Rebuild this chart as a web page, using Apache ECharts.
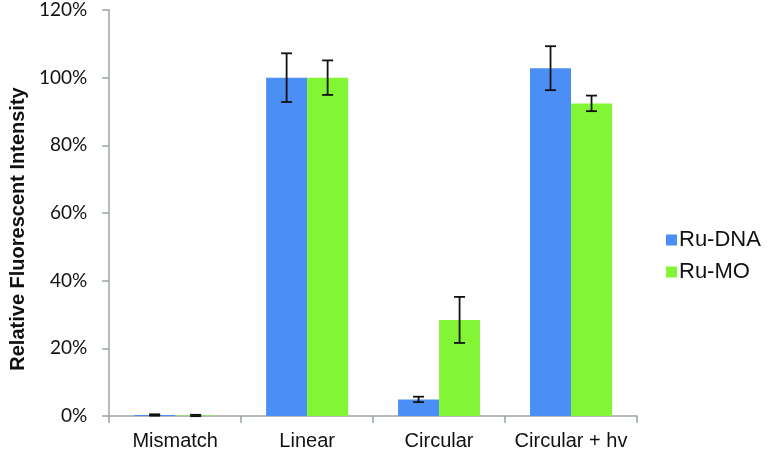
<!DOCTYPE html>
<html><head><meta charset="utf-8">
<script src="https://cdn.jsdelivr.net/npm/echarts@6/dist/echarts.min.js"></script>
<style>html,body{margin:0;padding:0;background:#fff}#c{width:784px;height:451px}</style>
</head><body><div id="c"></div>
<script>
var categories = ['Mismatch', 'Linear', 'Circular', 'Circular + hv'];
var seriesNames = ['Ru-DNA', 'Ru-MO'];
var ruDNA = [0.3, 100, 4.9, 102.8];
var ruDNAErr = [0.2, 7.2, 0.8, 6.5];
var ruMO = [0.15, 100, 28.4, 92.4];
var ruMOErr = [0.2, 5.1, 6.8, 2.3];
var yTicks = [0, 20, 40, 60, 80, 100, 120];

var BAR_W = 41;
var axisColor = '#9ba4a7';

function errSeries(vals, errs, offset) {
  return {
    type: 'custom',
    z: 10,
    silent: true,
    renderItem: function (params, api) {
      var i = api.value(0), v = api.value(1), e = api.value(2);
      var hi = api.coord([i, v + e]);
      var lo = api.coord([i, v - e]);
      var x = hi[0] + offset;
      var cap = 5.5;
      var st = { stroke: '#111', lineWidth: 1.8 };
      return {
        type: 'group',
        children: [
          { type: 'line', shape: { x1: x, y1: hi[1], x2: x, y2: lo[1] }, style: st },
          { type: 'line', shape: { x1: x - cap, y1: hi[1], x2: x + cap, y2: hi[1] }, style: st },
          { type: 'line', shape: { x1: x - cap, y1: lo[1], x2: x + cap, y2: lo[1] }, style: st }
        ]
      };
    },
    data: vals.map(function (v, i) { return [i, v, errs[i]]; })
  };
}

var chart = echarts.init(document.getElementById('c'), null, { renderer: 'canvas' });
chart.setOption({
  animation: false,
  backgroundColor: '#fff',
  grid: { left: 90, right: 147, top: 10, bottom: 35, containLabel: false },
  legend: {
    orient: 'vertical',
    left: 661, top: 224,
    itemWidth: 11, itemHeight: 11, itemGap: 10,
    icon: 'rect',
    data: seriesNames,
    textStyle: { fontFamily: 'Liberation Sans, Arial', fontSize: 22, color: '#111', padding: [0, 0, 0, -3] }
  },
  xAxis: {
    type: 'category',
    data: categories,
    axisLine: { lineStyle: { color: axisColor, width: 1.5 } },
    axisTick: { show: true, length: 7, alignWithLabel: false, lineStyle: { color: axisColor, width: 1.5 } },
    axisLabel: { interval: 0, fontFamily: 'Liberation Sans, Arial', fontSize: 20, color: '#111', margin: 15 }
  },
  yAxis: {
    type: 'value',
    min: 0, max: 120, interval: 20,
    name: 'Relative Fluorescent Intensity',
    nameLocation: 'middle',
    nameGap: 68,
    nameTextStyle: { fontFamily: 'Liberation Sans, Arial', fontSize: 20, fontWeight: 'bold', color: '#111', padding: [0, 32, 0, 0] },
    axisLine: { show: true, lineStyle: { color: axisColor, width: 1.5 } },
    axisTick: { show: true, length: 7, lineStyle: { color: axisColor, width: 1.5 } },
    splitLine: { show: false },
    axisLabel: {
      fontFamily: 'Lato, Carlito, sans-serif', fontSize: 19, color: '#111', margin: 22,
      formatter: function (v) { return yTicks.indexOf(v) >= 0 ? v + '%' : ''; }
    }
  },
  series: [
    { name: seriesNames[0], type: 'bar', data: ruDNA, barWidth: BAR_W, barGap: '0%', itemStyle: { color: '#4a8ef6' } },
    { name: seriesNames[1], type: 'bar', data: ruMO, barWidth: BAR_W, barGap: '0%', itemStyle: { color: '#82f634' } },
    errSeries(ruDNA, ruDNAErr, -BAR_W / 2),
    errSeries(ruMO, ruMOErr, BAR_W / 2)
  ]
});
</script></body></html>
